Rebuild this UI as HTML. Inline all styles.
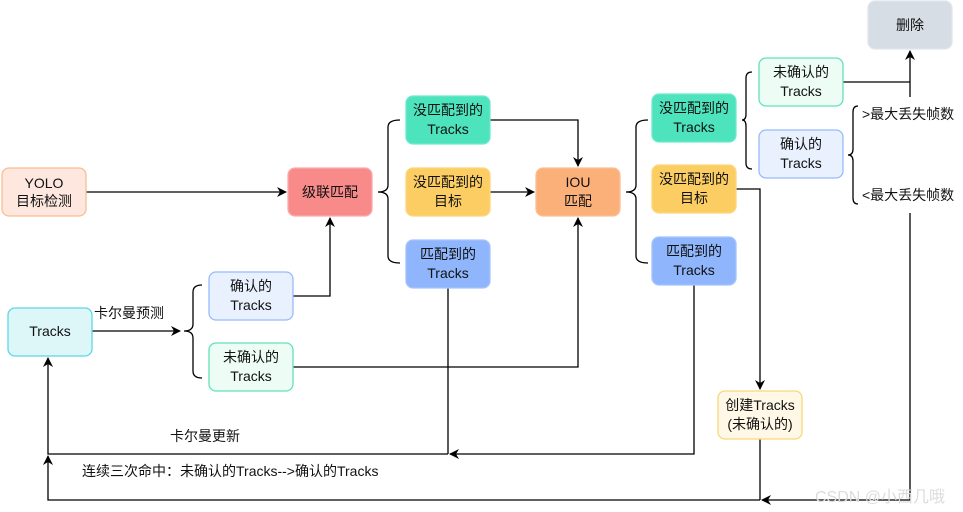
<!DOCTYPE html>
<html><head><meta charset="utf-8"><style>
html,body{margin:0;padding:0;background:#fff;}
svg{display:block;}
text{font-family:"Liberation Sans","Noto Sans CJK SC",sans-serif;font-size:14px;fill:#111;}
</style></head><body>
<svg width="963" height="512" viewBox="0 0 963 512" xmlns="http://www.w3.org/2000/svg">
<defs>
<marker id="a" markerWidth="10" markerHeight="10" refX="9" refY="5" orient="auto" markerUnits="userSpaceOnUse">
<path d="M0,0 L10,5 L0,10 L3,5 Z" fill="#000"/></marker>
</defs>
<g fill="none" stroke="#000" stroke-width="1.3">
<path d="M86,192 H286" marker-end="url(#a)"/>
<path d="M92,331 H180" marker-end="url(#a)"/>
<path d="M293,296 H330 V218" marker-end="url(#a)"/>
<path d="M293,367 H578 V218" marker-end="url(#a)"/>
<path d="M490,120 H578 V166" marker-end="url(#a)"/>
<path d="M490,192 H534" marker-end="url(#a)"/>
<path d="M448,288 V454"/>
<path d="M694,285 V454 H450" marker-end="url(#a)"/>
<path d="M448,454 H48 V358" marker-end="url(#a)"/>
<path d="M736,189 H760 V389" marker-end="url(#a)"/>
<path d="M760,439 V500"/>
<path d="M910,213 V500 H762" marker-end="url(#a)"/>
<path d="M760,500 H48 V456" marker-end="url(#a)"/>
<path d="M843,82 H910"/>
<path d="M910,97 V51" marker-end="url(#a)"/>
<path d="M202,285 Q193,285 193,292 V324 Q193,331 184,331 Q193,331 193,338 V371 Q193,378 202,378"/>
<path d="M400,120 Q388,120 388,127 V185 Q388,192 378,192 Q388,192 388,199 V256 Q388,263 400,263"/>
<path d="M648,120 Q636,120 636,127 V185 Q636,192 626,192 Q636,192 636,199 V256 Q636,263 648,263"/>
<path d="M752,72 Q746,72 746,78 V114 Q746,120 742,120 Q746,120 746,126 V163 Q746,169 752,169"/>
<path d="M858,106 Q853,106 853,112 V149 Q853,155 848,155 Q853,155 853,161 V198 Q853,204 858,204"/>
</g>
<g stroke-width="1.3">
<rect x="2" y="168" width="84" height="48" rx="7" fill="#fde7df" stroke="#fbbd8e"/>
<rect x="288" y="168" width="84" height="48" rx="7" fill="#f98a8a" stroke="#fbaaaa"/>
<rect x="8" y="308" width="84" height="48" rx="7" fill="#ddf6f8" stroke="#5cd8e8"/>
<rect x="209" y="272" width="84" height="48" rx="7" fill="#e9f1fe" stroke="#98bbfb"/>
<rect x="209" y="343" width="84" height="48" rx="7" fill="#edfdf6" stroke="#62e2ba"/>
<rect x="406" y="96" width="84" height="48" rx="7" fill="#4ce3bd" stroke="#6eeacb"/>
<rect x="406" y="168" width="84" height="48" rx="7" fill="#fbcd62" stroke="#fcd77c"/>
<rect x="406" y="240" width="84" height="48" rx="7" fill="#8fb6fc" stroke="#a5c4fc"/>
<rect x="536" y="168" width="84" height="48" rx="7" fill="#fbb07a" stroke="#fcc094"/>
<rect x="652" y="94" width="84" height="48" rx="7" fill="#4ce3bd" stroke="#6eeacb"/>
<rect x="652" y="165" width="84" height="48" rx="7" fill="#fbcd62" stroke="#fcd77c"/>
<rect x="652" y="237" width="84" height="48" rx="7" fill="#8fb6fc" stroke="#a5c4fc"/>
<rect x="759" y="58" width="84" height="48" rx="7" fill="#edfdf6" stroke="#62e2ba"/>
<rect x="759" y="130" width="84" height="48" rx="7" fill="#e9f1fe" stroke="#98bbfb"/>
<rect x="868" y="1" width="84" height="48" rx="7" fill="#d6dde5" stroke="#e0e6ec"/>
<rect x="718" y="391" width="84" height="48" rx="7" fill="#fff8e6" stroke="#fbd67a"/>
</g>
<g text-anchor="middle">
<text x="44" y="188">YOLO</text><text x="44" y="206">目标检测</text>
<text x="330" y="197">级联匹配</text>
<text x="50" y="336">Tracks</text>
<text x="251" y="291">确认的</text><text x="251" y="310">Tracks</text>
<text x="251" y="362">未确认的</text><text x="251" y="381">Tracks</text>
<text x="448" y="115">没匹配到的</text><text x="448" y="134">Tracks</text>
<text x="448" y="187">没匹配到的</text><text x="448" y="206">目标</text>
<text x="448" y="259">匹配到的</text><text x="448" y="278">Tracks</text>
<text x="578" y="187">IOU</text><text x="578" y="206">匹配</text>
<text x="694" y="113">没匹配到的</text><text x="694" y="132">Tracks</text>
<text x="694" y="184">没匹配到的</text><text x="694" y="203">目标</text>
<text x="694" y="256">匹配到的</text><text x="694" y="275">Tracks</text>
<text x="801" y="77">未确认的</text><text x="801" y="96">Tracks</text>
<text x="801" y="149">确认的</text><text x="801" y="168">Tracks</text>
<text x="910" y="30">删除</text>
<text x="760" y="410">创建Tracks</text><text x="760" y="429">(未确认的)</text>
</g>
<text x="94" y="318">卡尔曼预测</text>
<text x="170" y="441">卡尔曼更新</text>
<text x="82" y="476">连续三次命中：未确认的Tracks--&gt;确认的Tracks</text>
<text x="862" y="119">&gt;最大丢失帧数</text>
<text x="862" y="200">&lt;最大丢失帧数</text>
<text x="815" y="502" style="fill:#dcdcdc;font-size:16px">CSDN @小西几哦</text>
</svg>
</body></html>
